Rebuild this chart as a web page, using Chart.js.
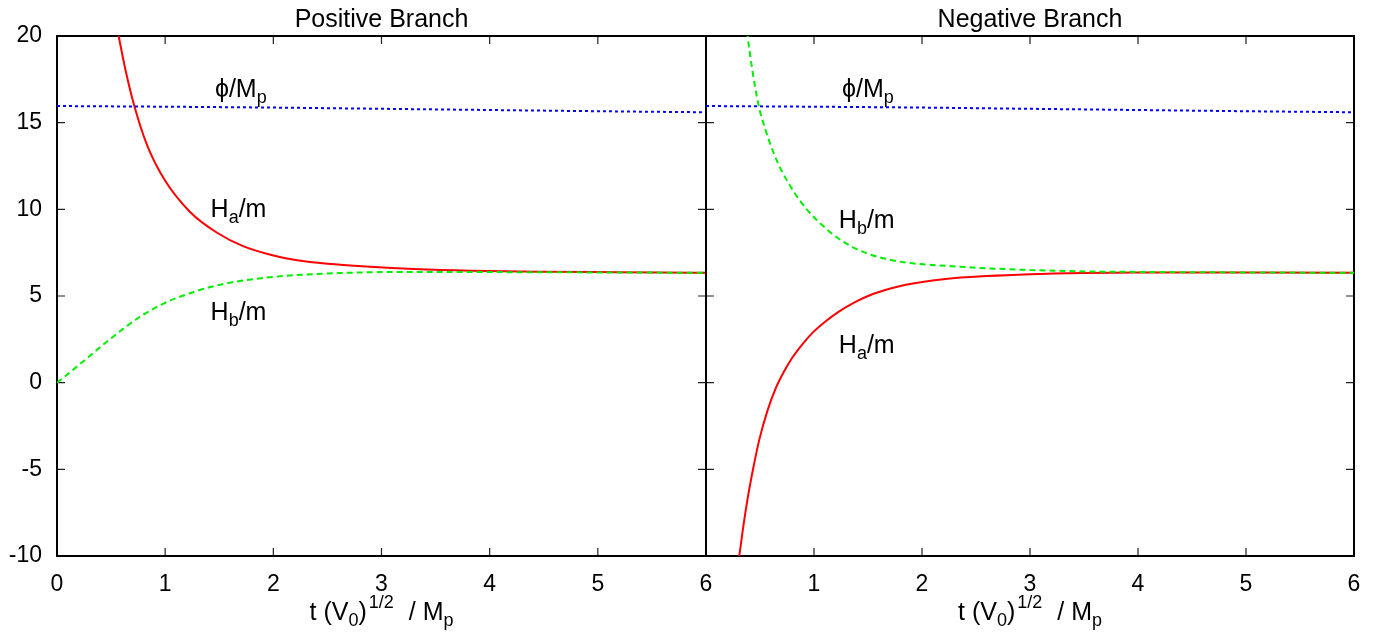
<!DOCTYPE html>
<html>
<head>
<meta charset="utf-8">
<script src="https://cdn.jsdelivr.net/npm/chart.js@4.4.1/dist/chart.umd.min.js"></script>
<style>
  body { margin: 0; background: #fff; }
  #wrap { position: relative; width: 1390px; height: 637px; }
  canvas { position: absolute; top: 0; }
</style>
</head>
<body>
<div id="wrap">
  <canvas id="posChart" width="720" height="637" style="left:0"></canvas>
  <canvas id="negChart" width="698" height="637" style="left:692px"></canvas>
</div>
<script>
// values
const xTicks = [0, 1, 2, 3, 4, 5, 6];
const yTicks = [-10, -5, 0, 5, 10, 15, 20];

// phi / Mp (same in both panels)
const phiT = [0, 1, 2, 3, 4, 5, 6];
const phiV = [15.96, 15.92, 15.87, 15.80, 15.73, 15.66, 15.60];

// positive branch
const posHaT = [0.50, 0.57, 0.64, 0.715, 0.83, 0.99, 1.23, 1.48, 1.72, 2.0, 2.22, 2.5, 2.89, 3.3, 3.82, 4.5, 5.2, 6.0];
const posHaV = [22.3, 20.0, 17.85, 15.96, 13.75, 11.75, 9.85, 8.65, 7.88, 7.34, 7.06, 6.86, 6.69, 6.56, 6.46, 6.40, 6.37, 6.34];
const posHbT = [0, 0.15, 0.31, 0.46, 0.62, 0.80, 0.99, 1.2, 1.39, 1.6, 1.85, 2.22, 2.6, 2.9, 3.4, 4.0, 5.0, 6.0];
const posHbV = [0, 0.75, 1.58, 2.36, 3.15, 3.93, 4.58, 5.1, 5.47, 5.77, 6.0, 6.21, 6.32, 6.37, 6.39, 6.38, 6.36, 6.34];

// negative branch
const negHbT = [0.35, 0.385, 0.43, 0.487, 0.55, 0.616, 0.69, 0.77, 0.87, 0.99, 1.1, 1.23, 1.38, 1.54, 1.7, 1.85, 2.22, 2.6, 3.0, 3.5, 4.0, 5.0, 6.0];
const negHbV = [22.0, 20.0, 18.0, 16.0, 14.6, 13.42, 12.35, 11.45, 10.5, 9.6, 8.95, 8.3, 7.75, 7.35, 7.1, 6.93, 6.74, 6.6, 6.5, 6.42, 6.39, 6.36, 6.34];
const negHaT = [0.28, 0.308, 0.345, 0.385, 0.44, 0.493, 0.57, 0.647, 0.72, 0.80, 0.89, 0.99, 1.1, 1.23, 1.38, 1.54, 1.7, 1.85, 2.22, 2.6, 3.0, 3.5, 4.0, 5.0, 6.0];
const negHaV = [-11.4, -10.0, -8.3, -6.7, -4.85, -3.3, -1.6, -0.3, 0.62, 1.45, 2.2, 2.9, 3.5, 4.1, 4.65, 5.1, 5.42, 5.65, 5.98, 6.15, 6.26, 6.33, 6.36, 6.35, 6.34];

Chart.defaults.font.family = "'Liberation Sans', Arial, sans-serif";
Chart.defaults.color = '#000';

const BIG = 25, SMALL = 18;

// draws text with sub/superscript pieces
function drawRich(ctx, parts, x, y, align) {
  let w = 0;
  parts.forEach(p => {
    ctx.font = (p.sub || p.sup ? SMALL : BIG) + "px 'Liberation Sans', Arial, sans-serif";
    p.w = ctx.measureText(p.t).width + (p.gap || 0);
    w += p.w;
  });
  let cx = align === 'center' ? x - w / 2 : x;
  ctx.textAlign = 'left';
  ctx.textBaseline = 'alphabetic';
  parts.forEach(p => {
    ctx.font = (p.sub || p.sup ? SMALL : BIG) + "px 'Liberation Sans', Arial, sans-serif";
    let dy = p.sub ? 6 : (p.sup ? -12 : 0);
    ctx.fillText(p.t, cx + (p.gap || 0), y + dy);
    cx += p.w;
  });
}

const axisLabel = [{t: 't (V'}, {t: '0', sub: 1}, {t: ')'}, {t: '1/2', sup: 1, gap: 2}, {t: ' / M', gap: 8}, {t: 'p', sub: 1}];
const phiLabel = [{t: '\u03d5/M'}, {t: 'p', sub: 1}];
const haLabel = [{t: 'H'}, {t: 'a', sub: 1}, {t: '/m'}];
const hbLabel = [{t: 'H'}, {t: 'b', sub: 1}, {t: '/m'}];

const framePlugin = {
  id: 'frame',
  beforeDatasetsDraw(chart) {
    const {ctx, chartArea: a, scales: {x, y}} = chart;
    ctx.save();
    ctx.strokeStyle = '#222';
    ctx.lineWidth = 1.2;
    ctx.beginPath();
    xTicks.forEach(v => {
      const px = x.getPixelForValue(v);
      ctx.moveTo(px, a.bottom); ctx.lineTo(px, a.bottom - 8);
      ctx.moveTo(px, a.top); ctx.lineTo(px, a.top + 8);
    });
    yTicks.forEach(v => {
      const py = y.getPixelForValue(v);
      ctx.moveTo(a.left, py); ctx.lineTo(a.left + 8, py);
      ctx.moveTo(a.right, py); ctx.lineTo(a.right - 8, py);
    });
    ctx.stroke();
    ctx.strokeStyle = '#000';
    ctx.lineWidth = 2;
    ctx.strokeRect(a.left, a.top, a.right - a.left, a.bottom - a.top);
    ctx.restore();
  },
  afterDraw(chart, args, opts) {
    const {ctx, chartArea: a, scales: {x, y}} = chart;
    const mid = (a.left + a.right) / 2;
    ctx.save();
    ctx.fillStyle = '#000';
    ctx.font = BIG + "px 'Liberation Sans', Arial, sans-serif";
    ctx.textAlign = 'center';
    ctx.textBaseline = 'alphabetic';
    ctx.fillText(opts.title, mid, 27);
    drawRich(ctx, axisLabel, mid, 620, 'center');
    opts.notes.forEach(n => {
      drawRich(ctx, n.parts, x.getPixelForValue(n.x), y.getPixelForValue(n.y), 'left');
    });
    ctx.restore();
  }
};

function pts(ts, vs) {
  return ts.map((t, i) => ({x: t, y: vs[i]}));
}

function makeDatasets(haT, haV, hbT, hbV) {
  const common = {pointRadius: 0, fill: false, cubicInterpolationMode: 'monotone'};
  return [
    {...common, data: pts(phiT, phiV), borderColor: '#0000ff', borderWidth: 2, borderDash: [3, 3]},
    {...common, data: pts(hbT, hbV), borderColor: '#00ee00', borderWidth: 2, borderDash: [6, 4]},
    {...common, data: pts(haT, haV), borderColor: '#ff0000', borderWidth: 2},
  ];
}

function makeScales(showY, hideZero) {
  return {
    x: {
      type: 'linear', min: 0, max: 6,
      grid: {display: false, drawTicks: false},
      border: {display: false},
      ticks: {
        stepSize: 1, padding: 15, maxRotation: 0, font: {size: 23},
        callback: v => (hideZero && v === 0) ? '' : v
      },
      afterFit: s => { s.height = 81; s.paddingLeft = 0; s.paddingRight = 0; }
    },
    y: {
      type: 'linear', min: -10, max: 20,
      grid: {display: false, drawTicks: false},
      border: {display: false},
      ticks: {stepSize: 5, display: showY, padding: 15, font: {size: 23}},
      afterFit: s => { s.width = showY ? 57 : 0; s.paddingTop = 0; s.paddingBottom = 0; }
    }
  };
}

function makeChart(id, datasets, scales, padding, frameOpts) {
  return new Chart(document.getElementById(id), {
    type: 'line',
    data: {datasets: datasets},
    options: {
      responsive: false,
      animation: false,
      devicePixelRatio: 1,
      layout: {padding: padding},
      scales: scales,
      plugins: {
        legend: {display: false},
        title: {display: false},
        tooltip: {enabled: false},
        frame: frameOpts
      }
    },
    plugins: [framePlugin]
  });
}

makeChart('posChart',
  makeDatasets(posHaT, posHaV, posHbT, posHbV),
  makeScales(true, false),
  {top: 36, right: 14, bottom: 0, left: 0},
  {
    title: 'Positive Branch',
    notes: [
      {x: 1.46, y: 16.46, parts: phiLabel},
      {x: 1.42, y: 9.58, parts: haLabel},
      {x: 1.42, y: 3.62, parts: hbLabel}
    ]
  });

makeChart('negChart',
  makeDatasets(negHaT, negHaV, negHbT, negHbV),
  makeScales(false, true),
  {top: 36, right: 36, bottom: 0, left: 14},
  {
    title: 'Negative Branch',
    notes: [
      {x: 1.26, y: 16.48, parts: phiLabel},
      {x: 1.23, y: 8.92, parts: hbLabel},
      {x: 1.23, y: 1.73, parts: haLabel}
    ]
  });
</script>
</body>
</html>
